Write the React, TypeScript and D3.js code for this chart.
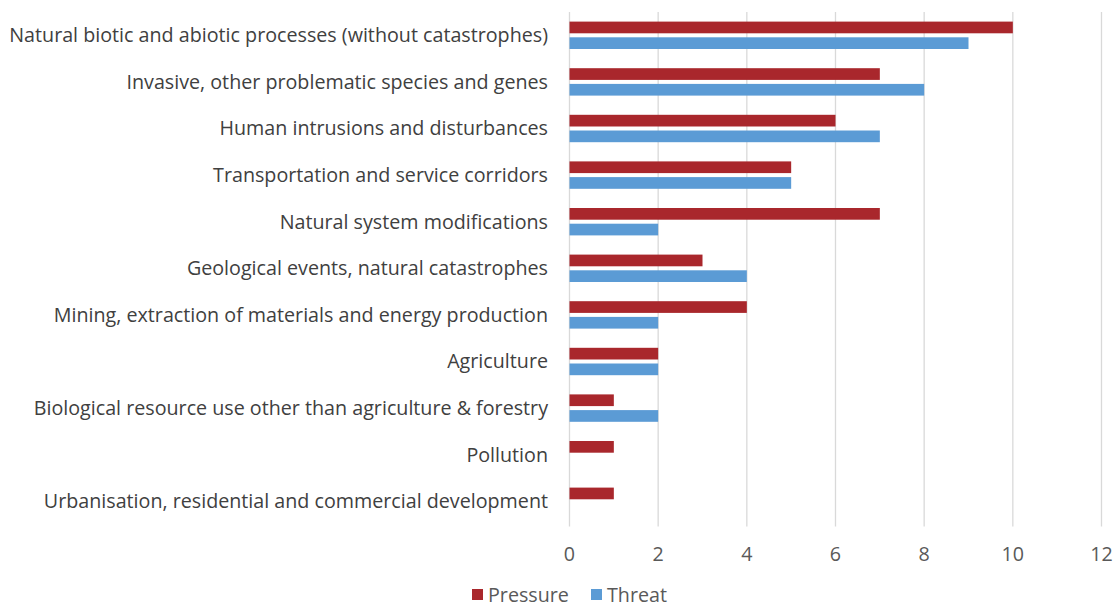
import React from "react";
import * as d3 from "d3";

// Pressures and threats by category (number of sites)
const categories = [
  "Natural biotic and abiotic processes (without catastrophes)",
  "Invasive, other problematic species and genes",
  "Human intrusions and disturbances",
  "Transportation and service corridors",
  "Natural system modifications",
  "Geological events, natural catastrophes",
  "Mining, extraction of materials and energy production",
  "Agriculture",
  "Biological resource use other than agriculture & forestry",
  "Pollution",
  "Urbanisation, residential and commercial development",
];
const pressure = [10, 7, 6, 5, 7, 3, 4, 2, 1, 1, 1];
const threat = [9, 8, 7, 5, 2, 4, 2, 2, 2, 0, 0];
const seriesNames = ["Pressure", "Threat"];
const xTicks = [0, 2, 4, 6, 8, 10, 12];

const W = 1119;
const H = 607;
const FONT = "'Open Sans', sans-serif";
const FS = 19.7;
const colors: Record<string, string> = { Pressure: "#A9272C", Threat: "#5B9BD5" };

export default function App() {
  const plotLeft = 569.5;
  const plotRight = 1101.5;
  const plotTop = 12;
  const plotBottom = 524.6;

  const x = d3.scaleLinear().domain([0, 12]).range([plotLeft, plotRight]);
  const y = d3.scaleBand<string>().domain(categories).range([plotTop, plotBottom]).padding(0);
  const bw = y.bandwidth();
  const groupH = 27.4;
  const inner = d3
    .scaleBand<string>()
    .domain(seriesNames)
    .range([(bw - groupH) / 2, (bw + groupH) / 2])
    .paddingInner(0.255);

  const values: Record<string, number[]> = { Pressure: pressure, Threat: threat };

  return (
    <svg width={W} height={H} style={{ position: "absolute", left: 0, top: 0, background: "#fff" }}>
      {/* vertical gridlines */}
      {xTicks.map((t) => (
        <line key={"g" + t} x1={x(t)} x2={x(t)} y1={plotTop} y2={plotBottom + 2} stroke="#D9D9D9" strokeWidth={1.3} />
      ))}
      {/* bars */}
      {categories.map((c, i) => (
        <g key={c} transform={`translate(0,${y(c)})`}>
          {seriesNames.map((s) =>
            values[s][i] > 0 ? (
              <rect
                key={s}
                x={x(0)}
                y={inner(s)}
                width={x(values[s][i]) - x(0)}
                height={inner.bandwidth()}
                fill={colors[s]}
              />
            ) : null
          )}
          <text
            x={548}
            y={bw / 2}
            dy="0.35em"
            textAnchor="end"
            fontFamily={FONT}
            fontSize={FS}
            fill="#404040"
          >
            {c}
          </text>
        </g>
      ))}
      {/* x tick labels */}
      {xTicks.map((t) => (
        <text
          key={"t" + t}
          x={x(t)}
          y={554}
          dy="0.35em"
          textAnchor="middle"
          fontFamily={FONT}
          fontSize={FS}
          fill="#595959"
        >
          {t}
        </text>
      ))}
      {/* legend */}
      {seriesNames.map((s, i) => {
        const lx = i === 0 ? 472 : 591;
        return (
          <g key={"l" + s}>
            <rect x={lx} y={589} width={11} height={11} fill={colors[s]} />
            <text x={lx + 16} y={595} dy="0.35em" fontFamily={FONT} fontSize={FS} fill="#595959">
              {s}
            </text>
          </g>
        );
      })}
    </svg>
  );
}
